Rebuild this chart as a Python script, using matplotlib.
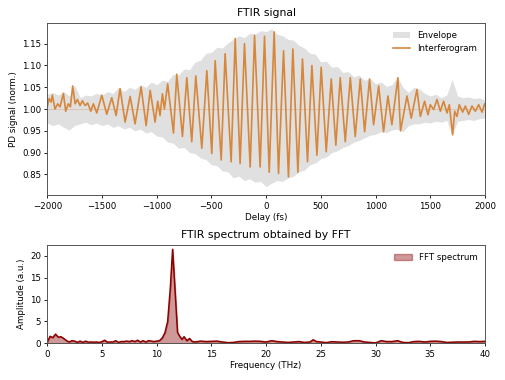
import matplotlib

matplotlib.use("Agg")
import matplotlib.pyplot as plt

# interferogram (delay in fs, PD signal normalised)
delay = [
    -2000, -1984, -1966, -1954, -1930, -1905, -1884, -1853, -1832, -1808,
    -1789, -1768, -1746, -1725, -1701, -1679, -1655, -1631, -1603, -1579,
    -1548, -1502, -1457, -1411, -1371, -1335, -1289, -1243, -1198, -1143,
    -1097, -1060, -1015, -991, -970, -948, -930, -900, -847, -817,
    -765, -725, -680, -643, -588, -542, -497, -466, -411, -375,
    -320, -283, -238, -198, -146, -106, -55, -15, 28, 73,
    113, 159, 204, 244, 290, 332, 378, 418, 464, 503,
    549, 595, 637, 677, 723, 769, 814, 860, 900, 945,
    982, 1028, 1073, 1113, 1149, 1204, 1228, 1287, 1326, 1378,
    1409, 1448, 1479, 1500, 1531, 1561, 1592, 1622, 1653, 1674,
    1704, 1723, 1744, 1765, 1796, 1820, 1851, 1881, 1912, 1942,
    1973, 1997, 2018,
]
signal = [
    1.005, 1.024, 1.016, 1.032, 1.000, 1.012, 1.005, 1.036, 0.995, 1.012,
    1.005, 1.053, 1.012, 1.022, 1.008, 1.019, 1.008, 1.014, 0.995, 1.012,
    0.991, 1.032, 0.988, 1.026, 0.985, 1.047, 0.970, 1.029, 0.966, 1.051,
    0.962, 1.043, 0.970, 1.018, 0.985, 1.035, 1.000, 1.058, 0.945, 1.080,
    0.937, 1.072, 0.925, 1.076, 0.910, 1.088, 0.898, 1.111, 0.883, 1.127,
    0.879, 1.162, 0.875, 1.150, 0.867, 1.169, 0.867, 1.167, 0.855, 1.177,
    0.852, 1.134, 0.844, 1.138, 0.855, 1.115, 0.879, 1.100, 0.894, 1.096,
    0.902, 1.069, 0.917, 1.072, 0.925, 1.072, 0.937, 1.069, 0.948, 1.069,
    0.964, 1.053, 0.948, 1.030, 0.964, 1.072, 0.950, 1.030, 0.979, 1.045,
    0.983, 1.018, 0.987, 1.010, 0.999, 1.022, 0.995, 1.018, 0.991, 1.010,
    0.941, 0.995, 0.983, 1.010, 0.993, 1.007, 0.988, 1.007, 0.995, 1.010,
    0.993, 1.012, 1.003,
]

# envelope (upper / lower bound of the grey band)
env_delay = list(range(-2000, 2001, 50))
env_upper = [
    1.034, 1.038, 1.032, 1.040, 1.030, 1.055, 1.026, 1.032, 1.030, 1.036,
    1.032, 1.040, 1.036, 1.050, 1.040, 1.050, 1.045, 1.056, 1.050, 1.062,
    1.056, 1.066, 1.064, 1.080, 1.078, 1.092, 1.090, 1.108, 1.112, 1.128,
    1.130, 1.142, 1.140, 1.152, 1.160, 1.168, 1.164, 1.174, 1.172, 1.180,
    1.178, 1.184, 1.172, 1.168, 1.160, 1.158, 1.146, 1.140, 1.128, 1.126,
    1.108, 1.110, 1.096, 1.098, 1.084, 1.086, 1.074, 1.078, 1.066, 1.070,
    1.058, 1.062, 1.052, 1.056, 1.074, 1.050, 1.038, 1.050, 1.046, 1.036,
    1.030, 1.034, 1.026, 1.032, 1.068, 1.030, 1.026, 1.028, 1.024, 1.026,
    1.020,
]
env_lower = [
    0.968, 0.962, 0.966, 0.958, 0.952, 0.962, 0.966, 0.970, 0.964, 0.968,
    0.962, 0.966, 0.958, 0.962, 0.954, 0.958, 0.950, 0.954, 0.945, 0.948,
    0.938, 0.936, 0.924, 0.922, 0.910, 0.912, 0.900, 0.898, 0.888, 0.884,
    0.872, 0.870, 0.858, 0.856, 0.842, 0.846, 0.836, 0.840, 0.832, 0.834,
    0.822, 0.830, 0.836, 0.834, 0.842, 0.846, 0.856, 0.860, 0.872, 0.876,
    0.886, 0.890, 0.900, 0.904, 0.912, 0.916, 0.924, 0.928, 0.934, 0.940,
    0.942, 0.948, 0.946, 0.952, 0.954, 0.948, 0.962, 0.966, 0.966, 0.970,
    0.968, 0.972, 0.970, 0.974, 0.940, 0.972, 0.974, 0.976, 0.974, 0.978,
    0.980,
]

# FFT spectrum (THz, a.u.)
freq = [
    0.0, 0.25, 0.5, 0.75, 1.0, 1.25, 1.5, 1.75, 2.0, 2.25,
    2.5, 2.75, 3.0, 3.25, 3.5, 3.75, 4.0, 4.25, 4.5, 4.75,
    5.0, 5.25, 5.5, 5.75, 6.0, 6.25, 6.5, 6.75, 7.0, 7.25,
    7.5, 7.75, 8.0, 8.25, 8.5, 8.75, 9.0, 9.25, 9.5, 9.75,
    10.0, 10.25, 10.5, 10.75, 11.0, 11.25, 11.45, 11.7, 11.9, 12.1,
    12.3, 12.5, 12.75, 13.0, 13.25, 13.5, 14.0, 14.5, 15.0, 15.5,
    16.0, 16.5, 17.0, 17.5, 18.0, 18.5, 19.0, 19.5, 20.0, 20.5,
    21.0, 21.5, 22.0, 22.5, 23.0, 23.5, 24.0, 24.3, 24.6, 25.0,
    25.5, 26.0, 26.5, 27.0, 27.5, 28.0, 28.5, 29.0, 29.5, 30.0,
    30.5, 31.0, 31.5, 32.0, 32.5, 33.0, 33.5, 34.0, 34.5, 35.0,
    35.5, 36.0, 36.5, 37.0, 37.5, 38.0, 38.5, 39.0, 39.5, 40.0,
]
amplitude = [
    0.3, 1.6, 1.3, 2.1, 1.4, 1.5, 1.1, 0.6, 0.3, 0.6,
    0.5, 0.2, 0.5, 0.2, 0.5, 0.25, 0.3, 0.25, 0.3, 0.2,
    0.4, 0.7, 0.25, 0.3, 0.3, 0.6, 0.2, 0.4, 0.4, 0.5,
    0.4, 0.6, 0.4, 0.7, 0.3, 0.6, 0.3, 0.6, 0.5, 0.4,
    0.5, 0.6, 1.2, 2.4, 5.0, 13.0, 21.5, 11.0, 2.5, 1.6,
    0.9, 1.5, 0.6, 1.1, 0.4, 0.3, 0.5, 0.4, 0.45, 0.5,
    0.3, 0.15, 0.2, 0.4, 0.45, 0.45, 0.5, 0.45, 0.3, 0.6,
    0.4, 0.3, 0.2, 0.3, 0.4, 0.2, 0.3, 0.8, 0.4, 0.3,
    0.15, 0.38, 0.3, 0.25, 0.3, 0.6, 0.6, 0.3, 0.2, 0.08,
    0.6, 0.4, 0.4, 0.6, 0.2, 0.15, 0.4, 0.45, 0.3, 0.45,
    0.5, 0.4, 0.2, 0.25, 0.3, 0.3, 0.3, 0.45, 0.4, 0.45,
]

ORANGE = "#d6873c"

plt.rcParams["font.size"] = 6
fig = plt.figure(figsize=(5.06, 3.8), dpi=100)
ax1 = fig.add_axes([0.0935, 0.486, 0.865, 0.454])
ax2 = fig.add_axes([0.0935, 0.0966, 0.865, 0.2587])

ax1.fill_between(env_delay, env_lower, env_upper, color="lightgray", alpha=0.7,
                 linewidth=0, label="Envelope")
ax1.axhline(1.0, color=ORANGE, alpha=0.3, lw=0.7)
ax1.plot(delay, signal, color=ORANGE, lw=1.2, solid_joinstyle="round",
         label="Interferogram")
ax1.set_xlim(-2000, 2000)
ax1.set_ylim(0.802, 1.198)
ax1.set_xlabel("Delay (fs)", fontsize=6.3, labelpad=2)
ax1.set_ylabel("PD signal (norm.)", fontsize=6.3, labelpad=3)
ax1.set_title("FTIR signal", fontsize=7.8, pad=5)
ax1.legend(loc="upper right", frameon=False, fontsize=6.2)

ax2.fill_between(freq, 0, amplitude, color="darkred", alpha=0.4, label="FFT spectrum")
ax2.plot(freq, amplitude, color="darkred", lw=1.1)
ax2.set_xlim(0, 40)
ax2.set_ylim(0, 22.5)
ax2.set_yticks([0, 5, 10, 15, 20])
ax2.set_xlabel("Frequency (THz)", fontsize=6.3, labelpad=2)
ax2.set_ylabel("Amplitude (a.u.)", fontsize=6.3, labelpad=3)
ax2.set_title("FTIR spectrum obtained by FFT", fontsize=7.8, pad=5)
ax2.legend(loc="upper right", frameon=False, fontsize=6.2)

for ax in (ax1, ax2):
    ax.tick_params(labelsize=6.2, length=2.5, width=0.6, pad=2)
    for s in ax.spines.values():
        s.set_linewidth(0.7)
        s.set_edgecolor("#555555")

fig.savefig("out.png", dpi=100)
